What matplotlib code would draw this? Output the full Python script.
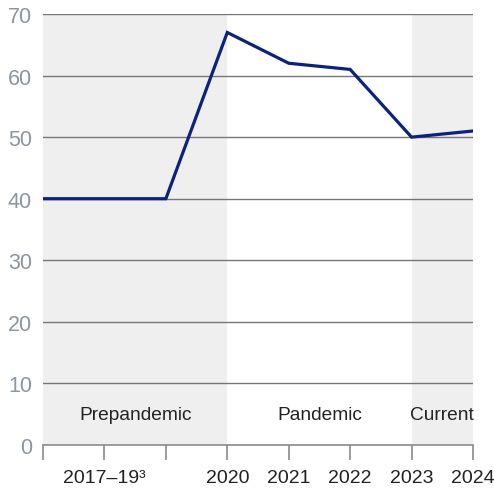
import matplotlib
matplotlib.use("Agg")
import matplotlib.pyplot as plt

# Datos
posiciones = [0, 1, 2, 3, 4, 5, 6, 7]
valores = [40, 40, 40, 67, 62, 61, 50, 51]
etiquetas_x = ["", "2017\u201319\u00b3", "", "2020", "2021", "2022", "2023", "2024"]
etiquetas_y = [0, 10, 20, 30, 40, 50, 60, 70]
periodos = ["Prepandemic", "Pandemic", "Current"]
periodos_rango = [(0, 3), (3, 6), (6, 7)]
periodos_sombra = [True, False, True]

plt.rcParams['font.family'] = ['Liberation Sans', 'DejaVu Sans']

fig = plt.figure(figsize=(4.94, 4.89), dpi=100)
ax = fig.add_axes([43 / 494, 43 / 489, 430 / 494, 431 / 489])

# Sombreado de periodos
for (a, b), sombra in zip(periodos_rango, periodos_sombra):
    if sombra:
        ax.axvspan(a, b, color='#efefef', lw=0, zorder=0)

# Líneas de cuadrícula
for v in etiquetas_y[1:]:
    ax.axhline(v, color='#767676', lw=1.0, zorder=1)

ax.plot(posiciones, valores, color='#0b2479', lw=2.3, zorder=3,
        solid_joinstyle='miter')

# Etiquetas de periodos
for nombre, (a, b) in zip(periodos, periodos_rango):
    ax.text((a + b) / 2, 4.9, nombre, ha='center', va='center',
            fontsize=13.8, color='#222222')

ax.set_xlim(0, 7)
ax.set_ylim(0, 70)
ax.set_xticks(posiciones)
ax.set_xticklabels(etiquetas_x, fontsize=14, color='#222222')
ax.set_yticks(etiquetas_y)
ax.set_yticklabels([str(v) for v in etiquetas_y], fontsize=15.5, color='#8a96a0')

for s in ['top', 'right', 'left']:
    ax.spines[s].set_visible(False)
ax.spines['bottom'].set_color('#8a8a8a')
ax.spines['bottom'].set_linewidth(1.2)
ax.tick_params(axis='x', length=11, width=1.2, color='#8a8a8a', pad=6)
ax.tick_params(axis='y', length=0, pad=8)

fig.savefig('out.png', dpi=100)
